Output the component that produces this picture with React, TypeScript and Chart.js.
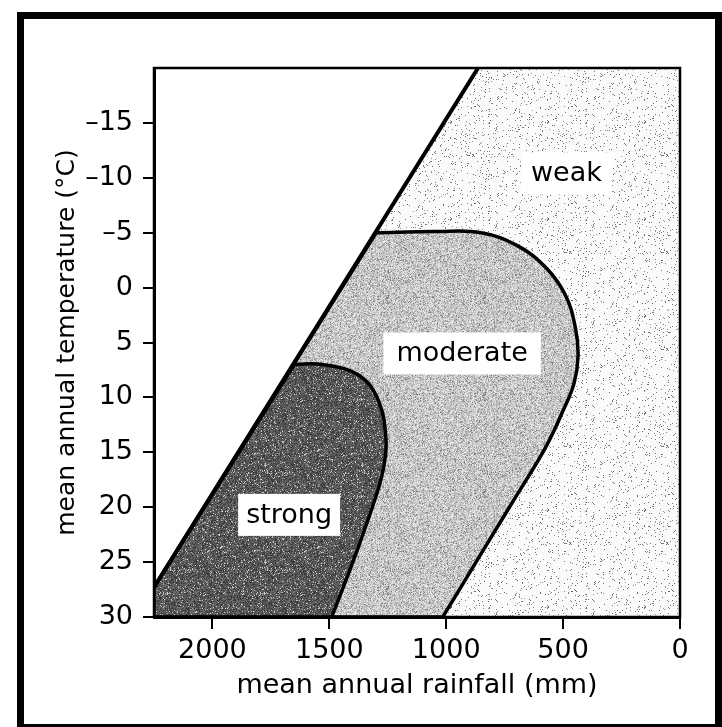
import React, { useEffect, useRef } from 'react';
import { Chart, registerables } from 'chart.js';

Chart.register(...registerables);

// ---- axes ----
const rainRange = [0, 2250];
const tempRange = [-20, 30];
const xTicks = [2000, 1500, 1000, 500, 0];
const yTicks = [-15, -10, -5, 0, 5, 10, 15, 20, 25, 30];

// ---- boundary between no weathering and weak weathering ----
const diagonalRain = [2250, 864];
const diagonalTemp = [27.3, -20];

// ---- moderate zone boundary (from diagonal to bottom axis) ----
const moderateRain = [1300, 1048, 851, 694, 573, 490, 448, 436, 453, 500, 576, 698, 807, 915, 1015];
const moderateTemp = [-5, -5.1, -5.0, -3.8, -1.8, 0.7, 3.6, 6.2, 8.7, 11.2, 14.6, 18.9, 22.7, 26.5, 30];

// ---- strong zone boundary ----
const strongRain = [1650, 1531, 1372, 1290, 1258, 1266, 1302, 1396, 1490];
const strongTemp = [7, 7.0, 8.0, 10.3, 13.7, 16.2, 19.1, 24.8, 30];

// ---- zone labels ----
const zoneNames = ['weak', 'moderate', 'strong'];
const zoneLabelRain = [486, 932, 1672];
const zoneLabelTemp = [-10.4, 6.0, 20.7];

type P = { x: number; y: number };
const pts = (xs: number[], ys: number[]): P[] => xs.map((x, i) => ({ x, y: ys[i] }));
const corner = (p: P): P[] => [{ ...p }, { ...p }];

function closedShape(curve: P[]): P[] {
  const first = curve[0];
  const last = curve[curve.length - 1];
  const bottomLeft = { x: rainRange[1], y: tempRange[1] };
  const diagLow = { x: diagonalRain[0], y: diagonalTemp[0] };
  return [
    ...corner(first),
    ...curve.slice(1, -1),
    ...corner(last),
    ...corner(bottomLeft),
    ...corner(diagLow),
    ...corner(first),
  ];
}

function hash(i: number): number {
  let x = Math.imul(i ^ 0x9e3779b9, 2654435761) >>> 0;
  x ^= x >>> 15;
  x = Math.imul(x, 0x85ebca6b) >>> 0;
  x ^= x >>> 13;
  x = Math.imul(x, 0xc2b2ae35) >>> 0;
  x ^= x >>> 16;
  return (x >>> 0) / 4294967296;
}

function grain(seed: number, shade: (a: number, b: number) => number): CanvasPattern | string {
  const size = 97;
  const c = document.createElement('canvas');
  c.width = size;
  c.height = size;
  const g = c.getContext('2d');
  if (!g) return '#ccc';
  const img = g.createImageData(size, size);
  for (let i = 0; i < size * size; i++) {
    const a = hash(i * 3 + seed);
    const b = hash(i * 7 + seed * 13 + 1);
    const v = Math.max(0, Math.min(255, shade(a, b)));
    img.data[i * 4] = v;
    img.data[i * 4 + 1] = v;
    img.data[i * 4 + 2] = v;
    img.data[i * 4 + 3] = 255;
  }
  g.putImageData(img, 0, 0);
  return g.createPattern(c, 'repeat') || '#ccc';
}

const FONT = '"DejaVu Sans", "Liberation Sans", sans-serif';
const boxPad = [10, 13, 8];

const overlayPlugin = {
  id: 'zoneOverlay',
  afterDatasetsDraw(chart: any) {
    const { ctx, chartArea: a, scales } = chart;
    const xs = scales.x;
    const ys = scales.y;
    ctx.save();
    ctx.font = `27px ${FONT}`;
    zoneNames.forEach((name, i) => {
      const px = xs.getPixelForValue(zoneLabelRain[i]);
      const py = ys.getPixelForValue(zoneLabelTemp[i]);
      const w = ctx.measureText(name).width;
      ctx.fillStyle = '#ffffff';
      ctx.fillRect(px - w / 2 - boxPad[i], py - 21, w + 2 * boxPad[i], 42);
      ctx.fillStyle = '#000';
      ctx.textAlign = 'center';
      ctx.textBaseline = 'middle';
      ctx.fillText(name, px, py + 1);
    });
    ctx.strokeStyle = '#000';
    ctx.lineWidth = 2.5;
    ctx.strokeRect(a.left, a.top, a.right - a.left, a.bottom - a.top);
    ctx.restore();
  },
};

export default function App() {
  const ref = useRef<HTMLCanvasElement | null>(null);

  useEffect(() => {
    if (!ref.current) return;

    const weakFill = grain(11, (a, b) => (b < 0.06 ? 95 + a * 60 : 246 + a * 9));
    const moderateFill = grain(23, (a, b) => (b < 0.12 ? 120 + a * 40 : 168 + a * 70));
    const strongFill = grain(37, (a, b) => (b < 0.08 ? 170 + a * 50 : 50 + a * 70));

    const diag = pts(diagonalRain, diagonalTemp);
    const weakShape: P[] = [
      { ...diag[1] },
      { x: rainRange[0], y: tempRange[0] },
      { x: rainRange[0], y: tempRange[1] },
      { x: rainRange[1], y: tempRange[1] },
      { ...diag[0] },
      { ...diag[1] },
    ];
    const moderateShape = closedShape(pts(moderateRain, moderateTemp));
    const strongShape = closedShape(pts(strongRain, strongTemp));

    const tickFont = { family: FONT, size: 27 };

    const chart = new Chart(ref.current, {
      type: 'scatter',
      data: {
        datasets: [
          {
            label: 'boundary',
            data: diag,
            showLine: true,
            borderColor: '#000',
            borderWidth: 4,
            pointRadius: 0,
            fill: false,
            order: 0,
          } as any,
          {
            label: 'strong',
            data: strongShape,
            showLine: true,
            borderColor: '#000',
            borderWidth: 3.5,
            backgroundColor: strongFill,
            pointRadius: 0,
            tension: 0.4,
            fill: 'shape',
            order: 1,
          } as any,
          {
            label: 'moderate',
            data: moderateShape,
            showLine: true,
            borderColor: '#000',
            borderWidth: 3.5,
            backgroundColor: moderateFill,
            pointRadius: 0,
            tension: 0.4,
            fill: 'shape',
            order: 2,
          } as any,
          {
            label: 'weak',
            data: weakShape,
            showLine: true,
            borderWidth: 0,
            borderColor: 'rgba(0,0,0,0)',
            backgroundColor: weakFill,
            pointRadius: 0,
            tension: 0,
            fill: 'shape',
            order: 3,
          } as any,
        ],
      },
      options: {
        responsive: false,
        animation: false,
        devicePixelRatio: 1,
        events: [],
        layout: { padding: { top: 68, right: 42, left: 0, bottom: 0 } },
        plugins: { legend: { display: false }, tooltip: { enabled: false } },
        scales: {
          x: {
            type: 'linear',
            reverse: true,
            min: rainRange[0],
            max: rainRange[1],
            afterBuildTicks: (s: any) => {
              s.ticks = xTicks.map((v) => ({ value: v }));
            },
            afterFit: (s: any) => {
              s.height = 110;
            },
            grid: { display: true, drawOnChartArea: false, drawTicks: true, tickLength: 12, color: '#000', lineWidth: 2 },
            border: { display: true, color: '#000', width: 3 },
            ticks: {
              autoSkip: false,
              maxRotation: 0,
              padding: 6,
              color: '#000',
              font: tickFont,
              callback: (v: any) => String(v),
            },
            title: {
              display: true,
              text: 'mean annual rainfall (mm)',
              color: '#000',
              font: { family: FONT, size: 27 },
              padding: { top: 0, bottom: 25 },
            },
          },
          y: {
            type: 'linear',
            reverse: true,
            min: tempRange[0],
            max: tempRange[1],
            afterBuildTicks: (s: any) => {
              s.ticks = yTicks.map((v) => ({ value: v }));
            },
            afterFit: (s: any) => {
              s.width = 154;
            },
            grid: { display: true, drawOnChartArea: false, drawTicks: true, tickLength: 11, color: '#000', lineWidth: 2 },
            border: { display: true, color: '#000', width: 3 },
            ticks: {
              autoSkip: false,
              padding: 10,
              color: '#000',
              font: tickFont,
              callback: (v: any) => (Number(v) < 0 ? '\u2013' + Math.abs(Number(v)) : String(v)),
            },
            title: {
              display: true,
              text: 'mean annual temperature (°C)',
              color: '#000',
              font: { family: FONT, size: 25 },
              padding: { top: 52, bottom: 0 },
            },
          },
        },
      },
      plugins: [overlayPlugin],
    } as any);

    return () => chart.destroy();
  }, []);

  return (
    <div style={{ position: 'fixed', left: 0, top: 0, width: 722, height: 727, background: '#fff', overflow: 'hidden' }}>
      <div
        style={{
          position: 'absolute',
          left: 17,
          top: 12,
          width: 705,
          height: 719,
          border: '7px solid #000',
          boxSizing: 'border-box',
        }}
      />
      <canvas ref={ref} width={722} height={727} style={{ position: 'absolute', left: 0, top: 0, width: 722, height: 727 }} />
    </div>
  );
}
